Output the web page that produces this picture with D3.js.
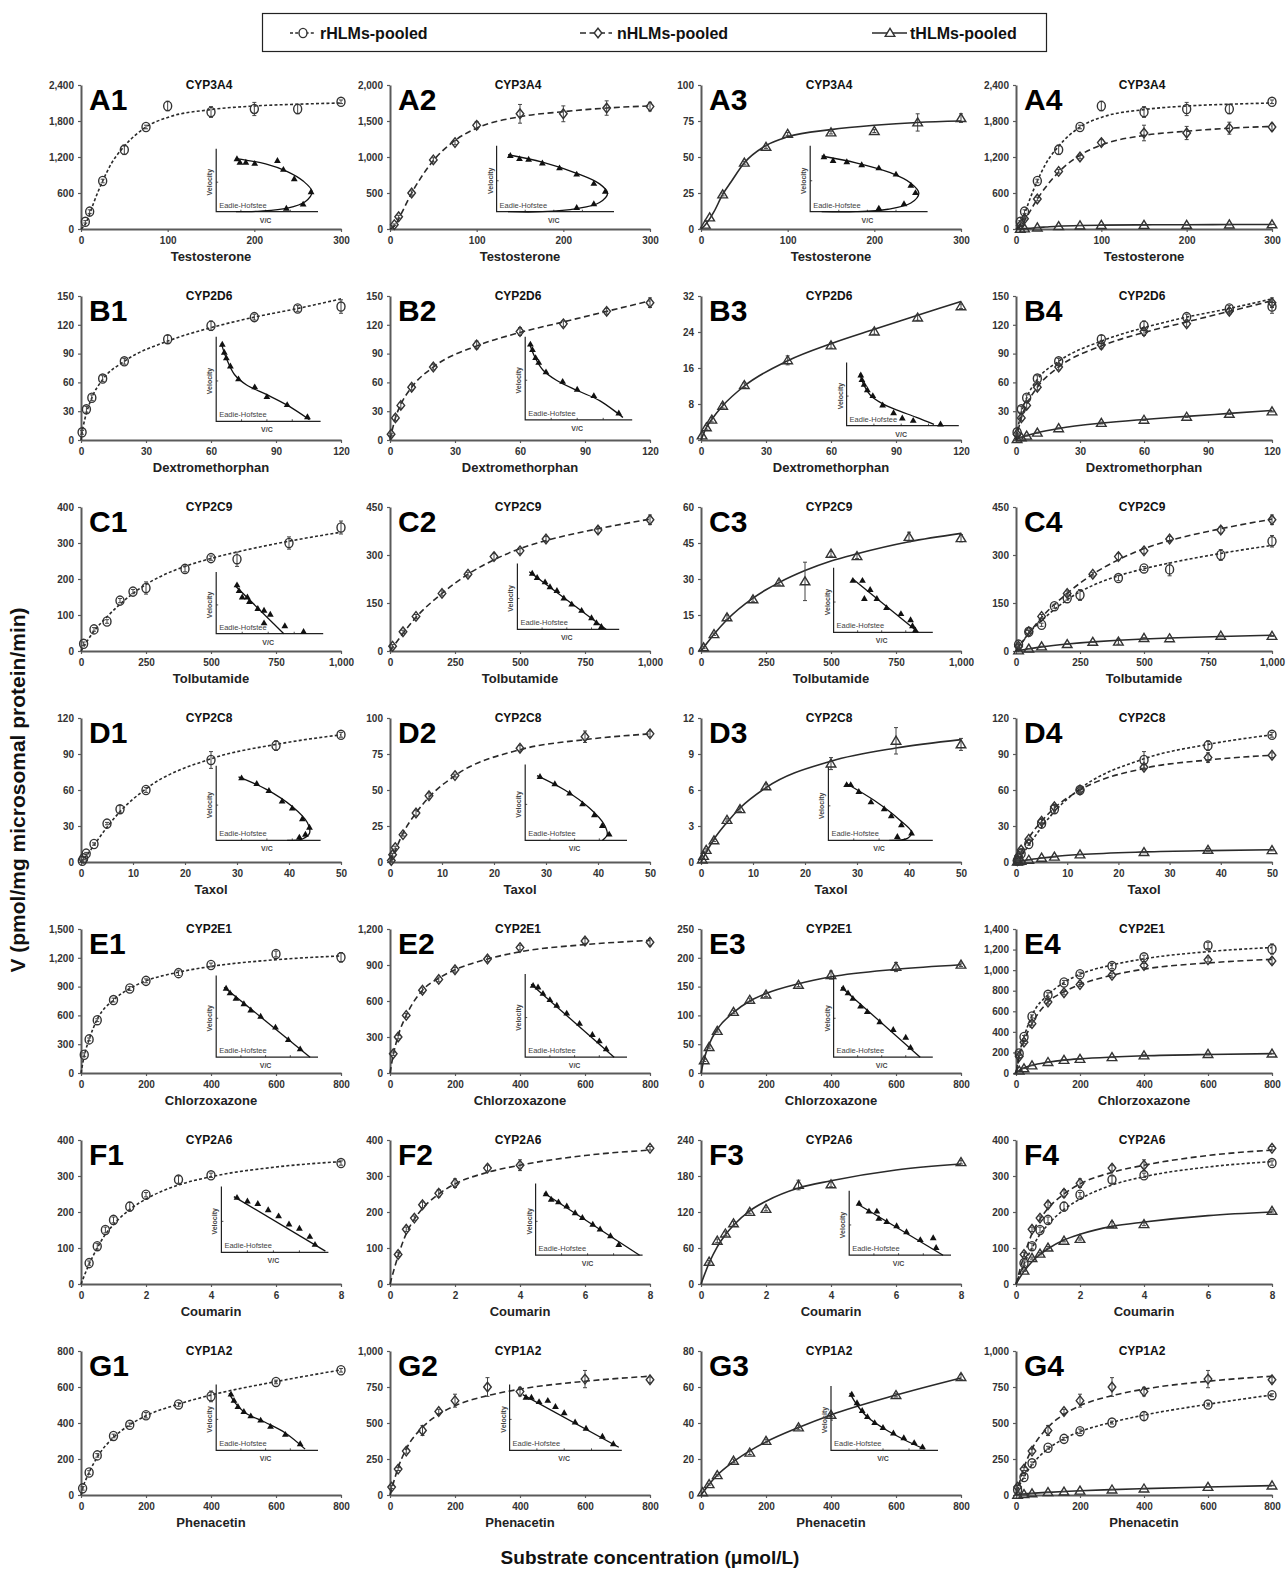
<!DOCTYPE html>
<html>
<head>
<meta charset="utf-8">
<script src="https://cdn.jsdelivr.net/npm/d3@7"></script>
<style>
body { margin: 0; background: #fff; }
text { font-family: "Liberation Sans", Arial, sans-serif; font-weight: bold; }
</style>
</head>
<body>
<svg id="chart"></svg>
<script>
var width = 1287,
    height = 1571;

// ---- panel rows ----
var letters = ["A", "B", "C", "D", "E", "F", "G"];
var enzymes = ["CYP3A4", "CYP2D6", "CYP2C9", "CYP2C8", "CYP2E1", "CYP2A6", "CYP1A2"];
var substrates = ["Testosterone", "Dextromethorphan", "Tolbutamide", "Taxol", "Chlorzoxazone", "Coumarin", "Phenacetin"];
var xMax = [300, 120, 1000, 50, 800, 8, 800];
var xStep = [100, 30, 250, 10, 200, 2, 200];
var yMax1 = [2400, 150, 400, 120, 1500, 400, 800], yStep1 = [600, 30, 100, 30, 300, 100, 200];
var yMax2 = [2000, 150, 450, 100, 1200, 400, 1000], yStep2 = [500, 30, 150, 25, 300, 100, 250];
var yMax3 = [100, 32, 60, 12, 250, 240, 80], yStep3 = [25, 8, 15, 3, 50, 60, 20];
var yMax4 = [2400, 150, 450, 120, 1400, 400, 1000], yStep4 = [600, 30, 150, 30, 200, 100, 250];

// ---- Testosterone (CYP3A4) ----
var testoX = [5, 10, 25, 50, 75, 100, 150, 200, 250, 300];
var testoR = [120, 290, 800, 1320, 1700, 2050, 1950, 2000, 2000, 2120];
var testoRErr = [20, 30, 30, 80, 30, 80, 90, 110, 80, 30];
var testoN = [60, 170, 500, 960, 1200, 1440, 1600, 1600, 1680, 1700];
var testoNErr = [10, 20, 30, 30, 30, 50, 130, 110, 100, 60];
var testoT = [3, 8, 24, 46, 57, 66, 67, 68, 74, 77];
var testoTErr = [0, 0, 1, 1, 1, 1, 1, 1, 6, 3];
var testoFitX = [0, 5, 10, 15, 25, 35, 50, 75, 100, 150, 200, 250, 300];
var testoRFit = [0, 80, 250, 450, 800, 1090, 1380, 1700, 1860, 1990, 2050, 2080, 2100];
var testoNFit = [0, 40, 140, 260, 500, 700, 950, 1230, 1400, 1560, 1630, 1680, 1710];
var testoTFit = [0, 3, 7, 12, 24, 33, 46, 58, 64, 69, 72, 74, 75];

// ---- Dextromethorphan (CYP2D6) ----
var dextroX = [0.5, 2.5, 5, 10, 20, 40, 60, 80, 100, 120];
var dextroR = [8, 32, 44, 64, 82, 105, 119, 128, 137, 139];
var dextroRErr = [2, 3, 3, 3, 3, 4, 5, 3, 3, 7];
var dextroN = [6, 23, 36, 55, 76, 99, 113, 121, 134, 143];
var dextroNErr = [1, 3, 3, 3, 3, 4, 4, 3, 3, 5];
var dextroT = [1, 2.8, 4.5, 7.6, 12.2, 17.7, 21, 24.1, 27.2, 29.7];
var dextroTErr = [0, 0.4, 0.5, 0.5, 0.5, 1, 0.6, 0.6, 0.6, 0.5];
var dextroFitX = [0, 0.5, 1, 2.5, 5, 10, 20, 40, 60, 80, 100, 120];
var dextroRFit = [0, 8, 14, 28, 44, 63, 82, 103, 117, 128, 137, 147];
var dextroNFit = [0, 5, 10, 23, 37, 55, 76, 98, 112, 123, 134, 145];
var dextroTFit = [0, 0.6, 1.2, 2.8, 4.6, 7.6, 12, 17.6, 21.4, 24.6, 27.7, 30.8];

// ---- Tolbutamide (CYP2C9) ----
var tolbXR = [10, 50, 100, 150, 200, 250, 400, 500, 600, 800, 1000];
var tolbR = [20, 60, 82, 140, 165, 175, 228, 258, 255, 300, 343];
var tolbRErr = [5, 5, 5, 6, 6, 17, 8, 6, 20, 17, 18];
var tolbX = [10, 50, 100, 200, 300, 400, 500, 600, 800, 1000];
var tolbN = [15, 60, 108, 180, 240, 295, 313, 350, 378, 410];
var tolbNErr = [5, 5, 6, 8, 6, 10, 8, 8, 10, 15];
var tolbT = [1.5, 7, 14, 21.5, 28.5, 29, 40.5, 39.5, 47.5, 47];
var tolbTErr = [0.5, 0.5, 1, 1, 1, 8, 1, 1, 2, 1.5];
var tolbFitX = [0, 10, 50, 100, 200, 250, 300, 400, 500, 600, 800, 1000];
var tolbRFit = [0, 12, 55, 95, 160, 185, 205, 235, 257, 275, 305, 330];
var tolbNFit = [0, 11, 55, 105, 180, 212, 240, 285, 320, 345, 382, 412];
var tolbTFit = [0, 1.4, 7, 13, 22, 25.5, 28.5, 33.5, 37.5, 40.5, 45.5, 49];

// ---- Taxol (CYP2C8) ----
var taxolX = [0.25, 0.5, 1, 2.5, 5, 7.5, 12.5, 25, 37.5, 50];
var taxolR = [1, 3, 7, 15, 32, 44, 60, 85, 97, 106];
var taxolRErr = [0.5, 1, 1, 1, 1, 3, 2, 7, 4, 2];
var taxolN = [1, 5, 10, 19, 34, 46, 60, 79, 87, 89];
var taxolNErr = [0.5, 1, 1, 1, 2, 2, 1, 2, 4, 2];
var taxolT = [0.2, 0.5, 1, 1.8, 3.5, 4.4, 6.3, 8.2, 10.1, 9.8];
var taxolTErr = [0, 0, 0.1, 0.1, 0.1, 0.2, 0.2, 0.5, 1.1, 0.5];
var taxolFitX = [0, 0.25, 0.5, 1, 2.5, 5, 7.5, 12.5, 25, 37.5, 50];
var taxolRFit = [0, 1.2, 2.5, 5, 14, 29, 42, 61, 86, 98, 106];
var taxolNFit = [0, 2, 4, 8, 20, 34, 45, 60, 78, 85, 89];
var taxolTFit = [0, 0.2, 0.4, 0.8, 1.9, 3.3, 4.5, 6.2, 8.4, 9.5, 10.2];

// ---- Chlorzoxazone (CYP2E1) ----
var chlorX = [10, 25, 50, 100, 150, 200, 300, 400, 600, 800];
var chlorR = [190, 350, 550, 760, 880, 960, 1040, 1125, 1240, 1205];
var chlorRErr = [20, 15, 15, 20, 20, 20, 25, 20, 30, 50];
var chlorN = [160, 300, 480, 690, 780, 860, 950, 1045, 1100, 1090];
var chlorNErr = [15, 15, 15, 20, 20, 20, 20, 20, 20, 30];
var chlorT = [22, 45, 73, 106, 127, 136, 153, 170, 184, 188];
var chlorTErr = [2, 2, 2, 3, 3, 3, 3, 7, 8, 3];
var chlorFitX = [0, 10, 25, 50, 100, 150, 200, 300, 400, 600, 800];
var chlorRFit = [0, 180, 350, 560, 760, 880, 960, 1050, 1110, 1180, 1220];
var chlorNFit = [0, 150, 310, 480, 690, 790, 860, 950, 1010, 1070, 1105];
var chlorTFit = [0, 25, 50, 76, 105, 125, 138, 155, 167, 180, 188];

// ---- Coumarin (CYP2A6) ----
var coumX = [0.25, 0.5, 0.75, 1, 1.5, 2, 3, 4, 8];
var coumR = [58, 105, 150, 178, 215, 248, 290, 302, 336];
var coumRErr = [6, 8, 8, 8, 12, 6, 10, 6, 6];
var coumN = [82, 152, 183, 220, 252, 280, 322, 330, 377];
var coumNErr = [6, 6, 6, 8, 10, 12, 8, 15, 5];
var coumT = [37, 72, 84, 101, 120, 125, 165, 166, 203];
var coumTErr = [2, 3, 3, 3, 3, 3, 8, 4, 3];
var coumFitX = [0, 0.25, 0.5, 0.75, 1, 1.5, 2, 3, 4, 6, 8];
var coumRFit = [0, 55, 100, 138, 165, 207, 236, 275, 298, 325, 340];
var coumNFit = [0, 78, 140, 180, 210, 250, 278, 310, 330, 357, 372];
var coumTFit = [0, 35, 62, 82, 98, 122, 138, 160, 172, 190, 200];

// ---- Phenacetin (CYP1A2) ----
var phenX = [5, 25, 50, 100, 150, 200, 300, 400, 600, 800];
var phenR = [37, 125, 220, 328, 390, 443, 503, 548, 628, 693];
var phenRErr = [10, 10, 10, 10, 10, 15, 10, 30, 10, 10];
var phenN = [55, 180, 305, 448, 580, 655, 750, 718, 805, 800];
var phenNErr = [10, 10, 15, 35, 15, 45, 65, 30, 60, 20];
var phenT = [1.5, 6, 11, 19, 23.5, 30, 37.5, 44.5, 55.5, 65.5];
var phenTErr = [0, 0.5, 0.5, 1, 1, 1, 1, 1, 1, 1.5];
var phenFitX = [0, 5, 25, 50, 100, 150, 200, 300, 400, 600, 800];
var phenRFit = [0, 35, 125, 210, 320, 390, 440, 505, 555, 630, 695];
var phenNFit = [0, 40, 190, 320, 470, 560, 620, 690, 735, 790, 825];
var phenTFit = [0, 1.2, 6, 11, 18.5, 24.5, 29.5, 37.5, 44.5, 55.5, 65];

// ---- Eadie-Hofstee insets (relative V/C, relative velocity) ----
var ehA1 = [[0.21,0.89],[0.24,0.83],[0.3,0.83],[0.39,0.81],[0.62,0.86],[0.68,0.71],[0.79,0.55],[0.96,0.33],[0.88,0.12],[0.71,0.05]];
var ehA1Fit = [[0.2,0.9],[0.5,0.81],[0.72,0.68],[0.88,0.52],[0.97,0.34],[0.9,0.17],[0.72,0.06],[0.45,0.01],[0.2,0]];
var ehA2 = [[0.12,0.9],[0.2,0.85],[0.28,0.84],[0.4,0.78],[0.55,0.7],[0.7,0.6],[0.85,0.45],[0.95,0.32],[0.85,0.12],[0.7,0.06]];
var ehA2Fit = [[0.1,0.92],[0.4,0.8],[0.7,0.62],[0.9,0.45],[0.97,0.3],[0.9,0.15],[0.7,0.05],[0.4,0],[0.1,0]];
var ehA3 = [[0.12,0.88],[0.2,0.82],[0.32,0.8],[0.45,0.75],[0.6,0.7],[0.75,0.6],[0.88,0.42],[0.92,0.3],[0.82,0.12],[0.6,0.05]];
var ehA3Fit = [[0.1,0.9],[0.4,0.79],[0.7,0.63],[0.88,0.46],[0.95,0.3],[0.88,0.14],[0.68,0.04],[0.4,0],[0.1,0]];
var ehB1 = [[0.06,0.95],[0.08,0.85],[0.1,0.78],[0.14,0.68],[0.22,0.52],[0.38,0.42],[0.5,0.3],[0.7,0.2],[0.9,0.05]];
var ehB1Fit = [[0.05,0.97],[0.1,0.78],[0.18,0.58],[0.3,0.45],[0.5,0.33],[0.7,0.2],[0.92,0.02]];
var ehB2 = [[0.05,0.95],[0.07,0.88],[0.1,0.78],[0.13,0.72],[0.2,0.6],[0.36,0.48],[0.5,0.38],[0.66,0.3],[0.9,0.08]];
var ehB2Fit = [[0.04,0.97],[0.09,0.8],[0.17,0.63],[0.3,0.5],[0.5,0.37],[0.72,0.24],[0.94,0.03]];
var ehB3 = [[0.13,0.85],[0.14,0.77],[0.16,0.69],[0.19,0.6],[0.24,0.5],[0.33,0.34],[0.43,0.21],[0.51,0.12],[0.61,0.08],[0.86,0.02]];
var ehB3Fit = [[0.12,0.88],[0.16,0.68],[0.22,0.51],[0.32,0.38],[0.45,0.27],[0.64,0.14],[0.8,0.02]];
var ehC1 = [[0.2,0.84],[0.22,0.74],[0.25,0.63],[0.3,0.63],[0.32,0.55],[0.4,0.43],[0.46,0.4],[0.52,0.33],[0.46,0.18],[0.66,0.13],[0.84,0.03]];
var ehC1Fit = [[0.19,0.82],[0.65,0]];
var ehC2 = [[0.15,0.9],[0.2,0.83],[0.28,0.76],[0.33,0.68],[0.4,0.62],[0.47,0.5],[0.55,0.4],[0.65,0.3],[0.75,0.18],[0.8,0.1],[0.85,0.04]];
var ehC2Fit = [[0.12,0.93],[0.9,0]];
var ehC3 = [[0.2,0.85],[0.3,0.85],[0.38,0.7],[0.32,0.55],[0.45,0.55],[0.55,0.4],[0.7,0.3],[0.8,0.2],[0.82,0.1],[0.85,0.03]];
var ehC3Fit = [[0.2,0.88],[0.88,0]];
var ehD1 = [[0.25,0.88],[0.4,0.8],[0.52,0.7],[0.65,0.55],[0.75,0.45],[0.85,0.3],[0.92,0.18],[0.88,0.08],[0.82,0.04]];
var ehD1Fit = [[0.22,0.9],[0.5,0.72],[0.75,0.48],[0.9,0.25],[0.92,0.1],[0.85,0.02],[0.7,0]];
var ehD2 = [[0.15,0.88],[0.3,0.78],[0.45,0.65],[0.58,0.5],[0.7,0.35],[0.78,0.2],[0.85,0.08]];
var ehD2Fit = [[0.12,0.9],[0.4,0.7],[0.65,0.45],[0.8,0.22],[0.83,0.08],[0.78,0]];
var ehD3 = [[0.18,0.8],[0.22,0.8],[0.3,0.7],[0.42,0.55],[0.55,0.45],[0.62,0.35],[0.72,0.22],[0.82,0.1],[0.68,0.05]];
var ehD3Fit = [[0.18,0.82],[0.45,0.58],[0.7,0.3],[0.82,0.12],[0.78,0.03],[0.6,0]];
var ehE1 = [[0.1,0.88],[0.14,0.82],[0.2,0.75],[0.28,0.68],[0.35,0.6],[0.45,0.52],[0.6,0.38],[0.73,0.22],[0.85,0.1]];
var ehE1Fit = [[0.08,0.9],[0.95,0]];
var ehE2 = [[0.08,0.9],[0.13,0.88],[0.18,0.8],[0.25,0.72],[0.32,0.65],[0.42,0.55],[0.55,0.42],[0.68,0.28],[0.75,0.2],[0.82,0.1]];
var ehE2Fit = [[0.06,0.92],[0.9,0]];
var ehE3 = [[0.1,0.88],[0.15,0.82],[0.2,0.75],[0.28,0.65],[0.35,0.58],[0.48,0.45],[0.62,0.35],[0.75,0.25],[0.8,0.12]];
var ehE3Fit = [[0.08,0.9],[0.9,0]];
var ehF1 = [[0.15,0.88],[0.25,0.82],[0.35,0.78],[0.45,0.68],[0.55,0.58],[0.65,0.45],[0.75,0.38],[0.85,0.25],[0.9,0.12]];
var ehF1Fit = [[0.12,0.9],[1,0.02]];
var ehF2 = [[0.1,0.9],[0.15,0.82],[0.22,0.78],[0.3,0.72],[0.38,0.62],[0.45,0.55],[0.55,0.45],[0.62,0.38],[0.72,0.28],[0.8,0.15]];
var ehF2Fit = [[0.08,0.92],[1,0]];
var ehF3 = [[0.1,0.85],[0.2,0.72],[0.28,0.72],[0.3,0.6],[0.38,0.55],[0.48,0.48],[0.58,0.38],[0.72,0.25],[0.85,0.28],[0.88,0.12]];
var ehF3Fit = [[0.08,0.85],[0.95,0]];
var ehG1 = [[0.15,0.9],[0.18,0.8],[0.22,0.7],[0.28,0.62],[0.35,0.55],[0.45,0.48],[0.55,0.38],[0.7,0.25],[0.85,0.1]];
var ehG1Fit = [[0.13,0.92],[0.2,0.75],[0.3,0.6],[0.5,0.45],[0.7,0.28],[0.9,0.02]];
var ehG2 = [[0.15,0.85],[0.2,0.85],[0.27,0.78],[0.35,0.8],[0.42,0.7],[0.5,0.6],[0.6,0.45],[0.7,0.35],[0.85,0.22],[0.95,0.1]];
var ehG2Fit = [[0.12,0.9],[1,0.05]];
var ehG3 = [[0.2,0.92],[0.25,0.78],[0.3,0.65],[0.35,0.55],[0.42,0.45],[0.5,0.37],[0.6,0.28],[0.7,0.2],[0.8,0.12],[0.88,0.05]];
var ehG3Fit = [[0.18,0.95],[0.25,0.75],[0.35,0.55],[0.5,0.37],[0.7,0.18],[0.9,0.02]];

// ---- tables built from the arrays above ----
var seriesR = [
    {x: testoX, y: testoR, e: testoRErr, fx: testoFitX, fy: testoRFit},
    {x: dextroX, y: dextroR, e: dextroRErr, fx: dextroFitX, fy: dextroRFit},
    {x: tolbXR, y: tolbR, e: tolbRErr, fx: tolbFitX, fy: tolbRFit},
    {x: taxolX, y: taxolR, e: taxolRErr, fx: taxolFitX, fy: taxolRFit},
    {x: chlorX, y: chlorR, e: chlorRErr, fx: chlorFitX, fy: chlorRFit},
    {x: coumX, y: coumR, e: coumRErr, fx: coumFitX, fy: coumRFit},
    {x: phenX, y: phenR, e: phenRErr, fx: phenFitX, fy: phenRFit}
];
var seriesN = [
    {x: testoX, y: testoN, e: testoNErr, fx: testoFitX, fy: testoNFit},
    {x: dextroX, y: dextroN, e: dextroNErr, fx: dextroFitX, fy: dextroNFit},
    {x: tolbX, y: tolbN, e: tolbNErr, fx: tolbFitX, fy: tolbNFit},
    {x: taxolX, y: taxolN, e: taxolNErr, fx: taxolFitX, fy: taxolNFit},
    {x: chlorX, y: chlorN, e: chlorNErr, fx: chlorFitX, fy: chlorNFit},
    {x: coumX, y: coumN, e: coumNErr, fx: coumFitX, fy: coumNFit},
    {x: phenX, y: phenN, e: phenNErr, fx: phenFitX, fy: phenNFit}
];
var seriesT = [
    {x: testoX, y: testoT, e: testoTErr, fx: testoFitX, fy: testoTFit},
    {x: dextroX, y: dextroT, e: dextroTErr, fx: dextroFitX, fy: dextroTFit},
    {x: tolbX, y: tolbT, e: tolbTErr, fx: tolbFitX, fy: tolbTFit},
    {x: taxolX, y: taxolT, e: taxolTErr, fx: taxolFitX, fy: taxolTFit},
    {x: chlorX, y: chlorT, e: chlorTErr, fx: chlorFitX, fy: chlorTFit},
    {x: coumX, y: coumT, e: coumTErr, fx: coumFitX, fy: coumTFit},
    {x: phenX, y: phenT, e: phenTErr, fx: phenFitX, fy: phenTFit}
];
var ehPts = [[ehA1, ehA2, ehA3], [ehB1, ehB2, ehB3], [ehC1, ehC2, ehC3], [ehD1, ehD2, ehD3],
             [ehE1, ehE2, ehE3], [ehF1, ehF2, ehF3], [ehG1, ehG2, ehG3]];
var ehFit = [[ehA1Fit, ehA2Fit, ehA3Fit], [ehB1Fit, ehB2Fit, ehB3Fit], [ehC1Fit, ehC2Fit, ehC3Fit], [ehD1Fit, ehD2Fit, ehD3Fit],
             [ehE1Fit, ehE2Fit, ehE3Fit], [ehF1Fit, ehF2Fit, ehF3Fit], [ehG1Fit, ehG2Fit, ehG3Fit]];
var yMaxCols = [yMax1, yMax2, yMax3, yMax4], yStepCols = [yStep1, yStep2, yStep3, yStep4];

// ---- layout ----
var colX = [81, 390, 701, 1016];
var colW = [260, 260, 260, 256];
var plotH = 144, rowTop0 = 85, rowPitch = 211;
// inset box in fractions of the plot: left, top, right, bottom
var insetBox = [
    [[0.52,0.47,0.90,0.88], [0.41,0.45,0.85,0.88], [0.42,0.45,0.86,0.88]],
    [[0.52,0.31,0.91,0.87], [0.52,0.31,0.92,0.86], [0.56,0.49,0.98,0.90]],
    [[0.52,0.48,0.92,0.88], [0.49,0.42,0.87,0.85], [0.51,0.45,0.88,0.87]],
    [[0.52,0.36,0.91,0.85], [0.52,0.35,0.90,0.85], [0.49,0.37,0.88,0.85]],
    [[0.52,0.35,0.90,0.89], [0.52,0.34,0.90,0.89], [0.51,0.35,0.88,0.89]],
    [[0.54,0.35,0.94,0.78], [0.56,0.33,0.96,0.80], [0.57,0.38,0.95,0.80]],
    [[0.52,0.26,0.90,0.69], [0.46,0.26,0.88,0.69], [0.50,0.27,0.90,0.69]]
];
var seriesStyle = {
    r: {dash: "3,2.2", marker: "circle"},
    n: {dash: "6,3.5", marker: "diamond"},
    t: {dash: null, marker: "triangle"}
};
var ink = "#2a2a2a";

var svg = d3.select("#chart").attr("width", width).attr("height", height);
svg.append("rect").attr("width", width).attr("height", height).attr("fill", "#fff");

function markerPath(kind, cx, cy) {
    if (kind === "circle") {
        return "M" + (cx - 4) + "," + cy + "a4,4.6 0 1,0 8,0a4,4.6 0 1,0 -8,0Z";
    } else if (kind === "diamond") {
        return "M" + cx + "," + (cy - 4.8) + "L" + (cx + 3.8) + "," + cy + "L" + cx + "," + (cy + 4.8) + "L" + (cx - 3.8) + "," + cy + "Z";
    }
    return "M" + cx + "," + (cy - 4.6) + "L" + (cx + 4.8) + "," + (cy + 3.4) + "L" + (cx - 4.8) + "," + (cy + 3.4) + "Z";
}

function drawSeries(g, s, st, x, y) {
    var line = d3.line()
        .x(function(d) { return x(d[0]); })
        .y(function(d) { return y(d[1]); })
        .curve(d3.curveMonotoneX);
    g.append("path")
        .attr("d", line(d3.zip(s.fx, s.fy)))
        .attr("fill", "none")
        .attr("stroke", ink)
        .attr("stroke-width", 1.6)
        .attr("stroke-dasharray", st.dash);
    var pts = d3.zip(s.x, s.y, s.e);
    var eb = g.append("g").attr("stroke", "#444").attr("stroke-width", 1);
    pts.forEach(function(d) {
        if (!d[2]) return;
        var px = x(d[0]), y1 = y(d[1] + d[2]), y2 = y(d[1] - d[2]);
        eb.append("line").attr("x1", px).attr("x2", px).attr("y1", y1).attr("y2", y2);
        eb.append("line").attr("x1", px - 2).attr("x2", px + 2).attr("y1", y1).attr("y2", y1);
        eb.append("line").attr("x1", px - 2).attr("x2", px + 2).attr("y1", y2).attr("y2", y2);
    });
    g.selectAll(null).data(pts).enter()
        .append("path")
        .attr("d", function(d) { return markerPath(st.marker, x(d[0]), y(d[1])); })
        .attr("fill", "none")
        .attr("stroke", "#333")
        .attr("stroke-width", 1.4);
}

function drawInset(g, box, pts, fit) {
    var ix = d3.scaleLinear().domain([0, 1]).range([box[0], box[2]]);
    var iy = d3.scaleLinear().domain([0, 1]).range([box[3], box[1]]);
    var ig = g.append("g");
    ig.append("path")
        .attr("d", "M" + box[0] + "," + (box[1] - 4) + "V" + box[3] + "H" + (box[2] + 3))
        .attr("fill", "none").attr("stroke", "#222").attr("stroke-width", 1.2);
    [0.25, 0.5, 0.75].forEach(function(t) {
        ig.append("line").attr("x1", ix(t)).attr("x2", ix(t)).attr("y1", box[3]).attr("y2", box[3] - 2)
            .attr("stroke", "#222").attr("stroke-width", 0.8);
    });
    ig.append("line").attr("x1", box[0]).attr("x2", box[0] + 2).attr("y1", iy(0.5)).attr("y2", iy(0.5))
        .attr("stroke", "#222").attr("stroke-width", 0.8);
    var line = d3.line()
        .x(function(d) { return ix(d[0]); })
        .y(function(d) { return iy(d[1]); })
        .curve(d3.curveCatmullRom.alpha(0.5));
    ig.append("path").attr("d", line(fit)).attr("fill", "none").attr("stroke", "#111").attr("stroke-width", 1.3);
    ig.selectAll(null).data(pts).enter()
        .append("path")
        .attr("transform", function(d) { return "translate(" + ix(d[0]) + "," + iy(d[1]) + ")"; })
        .attr("d", d3.symbol().type(d3.symbolTriangle).size(20))
        .attr("fill", "#111");
    ig.append("text")
        .attr("transform", "translate(" + (box[0] - 4) + "," + ((box[1] + box[3]) / 2) + ") rotate(-90)")
        .attr("text-anchor", "middle")
        .style("font-size", "7px").attr("fill", "#444")
        .text("Velocity");
    ig.append("text")
        .attr("x", box[0] + 3).attr("y", box[3] - 4)
        .style("font-size", "7.5px").style("font-weight", "normal").attr("fill", "#444")
        .text("Eadie-Hofstee");
    ig.append("text")
        .attr("x", (box[0] + box[2]) / 2).attr("y", box[3] + 11)
        .attr("text-anchor", "middle")
        .style("font-size", "7px").attr("fill", "#444")
        .text("V/C");
}

function drawPanel(r, c) {
    var x0 = colX[c], plotW = colW[c], topY = rowTop0 + rowPitch * r, bottomY = topY + plotH;
    var yMax = yMaxCols[c][r], yStep = yStepCols[c][r];
    var x = d3.scaleLinear().domain([0, xMax[r]]).range([x0, x0 + plotW]);
    var y = d3.scaleLinear().domain([0, yMax]).range([bottomY, topY]);
    var g = svg.append("g");

    var yAxis = g.append("g").attr("transform", "translate(" + x0 + ",0)")
        .call(d3.axisLeft(y).tickValues(d3.range(0, yMax + yStep / 2, yStep))
            .tickSize(3).tickSizeOuter(0).tickPadding(4).tickFormat(d3.format(",")));
    var xAxis = g.append("g").attr("transform", "translate(0," + bottomY + ")")
        .call(d3.axisBottom(x).tickValues(d3.range(0, xMax[r] + xStep[r] / 2, xStep[r]))
            .tickSize(3).tickSizeOuter(0).tickPadding(5).tickFormat(d3.format(",")));
    [yAxis, xAxis].forEach(function(a) {
        a.select(".domain").attr("stroke", "#5a5a5a").attr("stroke-width", 2);
        a.selectAll(".tick line").attr("stroke", "#5a5a5a").attr("stroke-width", 1.2);
        a.selectAll(".tick text").style("font-size", "10px").style("font-weight", "bold")
            .style("font-family", "'Liberation Sans', Arial, sans-serif").attr("fill", "#333");
    });

    g.append("text").attr("x", x0 + plotW / 2).attr("y", bottomY + 32)
        .attr("text-anchor", "middle").style("font-size", "13px").attr("fill", "#222")
        .text(substrates[r]);
    g.append("text").attr("x", x0 + plotW / 2 - 2).attr("y", topY + 4)
        .attr("text-anchor", "middle").style("font-size", "12px").attr("fill", "#111")
        .text(enzymes[r]);
    g.append("text").attr("x", x0 + 8).attr("y", topY + 25)
        .style("font-size", "30px").attr("fill", "#000")
        .text(letters[r] + (c + 1));

    if (c === 0) drawSeries(g, seriesR[r], seriesStyle.r, x, y);
    if (c === 1) drawSeries(g, seriesN[r], seriesStyle.n, x, y);
    if (c === 2) drawSeries(g, seriesT[r], seriesStyle.t, x, y);
    if (c === 3) {
        drawSeries(g, seriesT[r], seriesStyle.t, x, y);
        drawSeries(g, seriesN[r], seriesStyle.n, x, y);
        drawSeries(g, seriesR[r], seriesStyle.r, x, y);
    }
    if (c < 3) {
        var f = insetBox[r][c];
        var box = [x0 + f[0] * plotW, topY + f[1] * plotH, x0 + f[2] * plotW, topY + f[3] * plotH];
        drawInset(g, box, ehPts[r][c], ehFit[r][c]);
    }
}

for (var ri = 0; ri < 7; ri++) {
    for (var ci = 0; ci < 4; ci++) drawPanel(ri, ci);
}

// legend
var legend = svg.append("g");
legend.append("rect").attr("x", 262.5).attr("y", 13.5).attr("width", 784).attr("height", 38)
    .attr("fill", "none").attr("stroke", "#222").attr("stroke-width", 1.2);
var legendItems = [
    {label: "rHLMs-pooled", style: seriesStyle.r, x1: 290, x2: 316, mx: 303, tx: 320},
    {label: "nHLMs-pooled", style: seriesStyle.n, x1: 580, x2: 612, mx: 598, tx: 617},
    {label: "tHLMs-pooled", style: seriesStyle.t, x1: 872, x2: 907, mx: 890, tx: 910}
];
legendItems.forEach(function(d) {
    legend.append("line").attr("x1", d.x1).attr("x2", d.x2).attr("y1", 33).attr("y2", 33)
        .attr("stroke", ink).attr("stroke-width", 1.5).attr("stroke-dasharray", d.style.dash);
    legend.append("path").attr("d", markerPath(d.style.marker, d.mx, 33))
        .attr("fill", "#fff").attr("stroke", "#333").attr("stroke-width", 1.4);
    legend.append("text").attr("x", d.tx).attr("y", 39)
        .style("font-size", "16px").attr("fill", "#111").text(d.label);
});

// axis titles
svg.append("text")
    .attr("transform", "translate(25,790) rotate(-90)")
    .attr("text-anchor", "middle").style("font-size", "21px").attr("fill", "#111")
    .text("V (pmol/mg microsomal protein/min)");
svg.append("text")
    .attr("x", 650).attr("y", 1564)
    .attr("text-anchor", "middle").style("font-size", "19px").attr("fill", "#111")
    .text("Substrate concentration (\u03bcmol/L)");
</script>
</body>
</html>
